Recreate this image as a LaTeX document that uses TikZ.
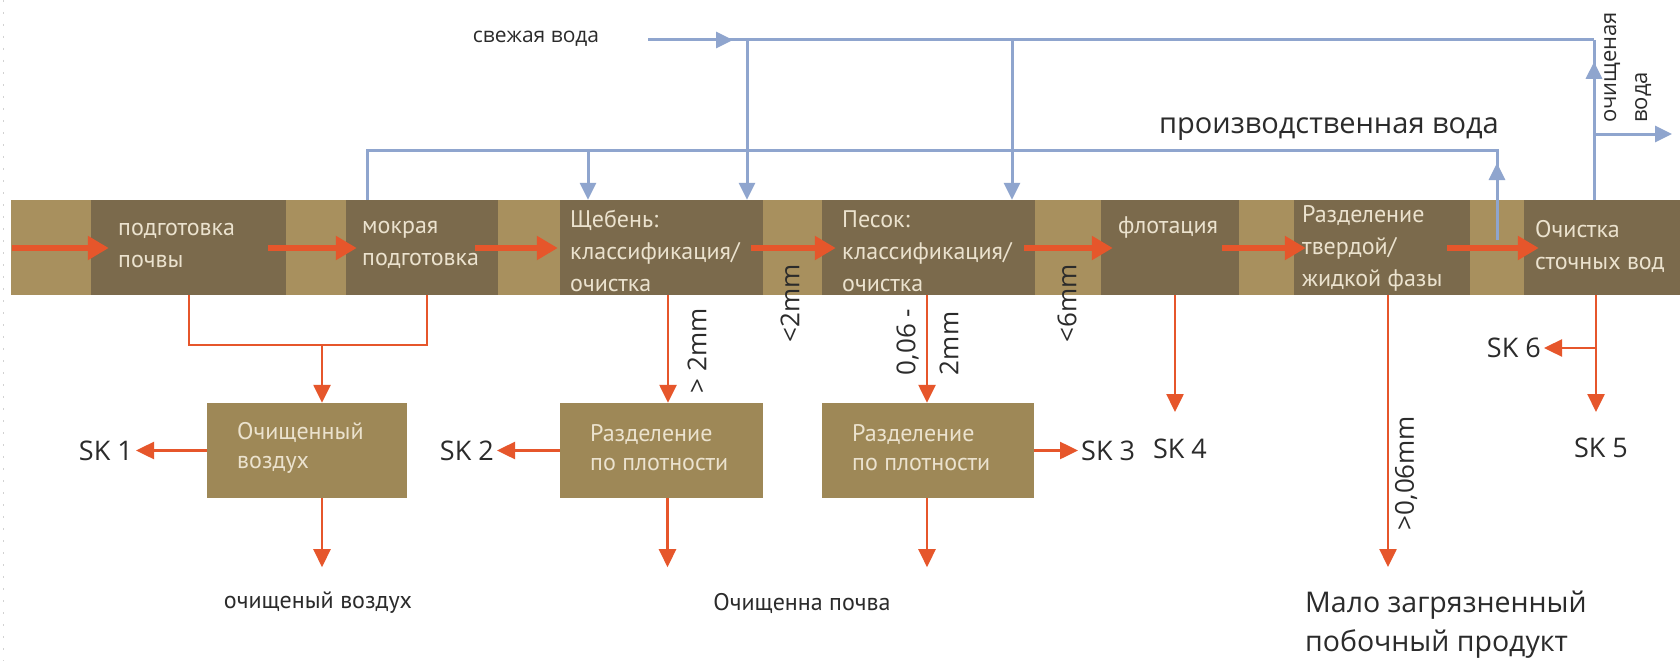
\documentclass[tikz,border=0pt]{standalone}
\usepackage{fontspec}
\setmainfont{Open Sans}
\newfontfamily\condf{PT Sans}
\usetikzlibrary{arrows.meta,calc,decorations.markings}

\definecolor{bandlight}{HTML}{A8905E}
\definecolor{banddark}{HTML}{7B6A4C}
\definecolor{boxtan}{HTML}{9E8857}
\definecolor{boxtext}{HTML}{EBE2CE}
\definecolor{flow}{HTML}{E6562B}
\definecolor{water}{HTML}{8FA5CE}
\definecolor{ink}{HTML}{2B2B2B}

\tikzset{
  dbox/.style={fill=banddark, draw=none, minimum height=95pt, inner sep=0pt},
  lbox/.style={fill=boxtan, draw=none, minimum height=95pt, inner sep=0pt},
  btext/.style={anchor=west, inner sep=0pt, align=left, text=boxtext, font=\condf\fontsize{24}{32}\selectfont},
  ltext/.style={anchor=west, inner sep=0pt, align=left, text=boxtext, font=\condf\fontsize{24}{29}\selectfont},
  ctext/.style={inner sep=0pt, text=ink, font=\condf\fontsize{24}{29}\selectfont},
  lab/.style={inner sep=0pt, text=ink, font=\fontsize{26}{30}\selectfont},
  sk/.style={inner sep=3pt, text=ink, font=\fontsize{27}{30}\selectfont},
  bandarrow/.style={draw=flow, line width=6pt, -{Triangle[length=21pt,width=23pt]}},
  oline/.style={draw=flow, line width=2.5pt},
  oarrow/.style={oline, -{Triangle[length=18pt,width=17pt]}},
  wline/.style={draw=water, line width=3pt},
  warrow/.style={wline, -{Triangle[length=17pt,width=16pt]}},
  wmark/.style={postaction={decorate}, decoration={markings, mark=at position #1 with {\arrow{Triangle[length=17pt,width=16pt,color=water]}}}},
}

\begin{document}
\begin{tikzpicture}[x=1pt,y=-1pt]
\fill[white] (0,0) rectangle (1680,661);
\useasboundingbox (0,0) rectangle (1680,661);
\draw[gray!35, line width=1pt, dash pattern=on 2pt off 10pt] (3,0) -- (3,661);

% ---------- band ----------
\fill[bandlight] (11,200) rectangle (1680,295);
\node[dbox, minimum width=195pt] (d1) at (188.5,247.5) {};
\node[dbox, minimum width=152pt] (d2) at (422,247.5) {};
\node[dbox, minimum width=203pt] (d3) at (661.5,247.5) {};
\node[dbox, minimum width=213pt] (d4) at (928.5,247.5) {};
\node[dbox, minimum width=138pt] (d5) at (1170,247.5) {};
\node[dbox, minimum width=176pt] (d6) at (1382,247.5) {};
\node[dbox, minimum width=156pt] (d7) at (1602,247.5) {};

% ---------- water lines ----------
\coordinate (fw) at (648,40);
\coordinate (fwR) at (1594,40);
\coordinate (fwj1) at (747,40);
\coordinate (fwj2) at (1012,40);
\draw[wline, wmark=85pt] (fw) -- (fwR);
\draw[wline, wmark=138pt] ($(d7.north)+(-8,0)$) -- (fwR);
\draw[warrow] (fwj1) -- ($(d3.north)+(85.5,0)$);
\draw[warrow] (fwj2) -- ($(d4.north)+(83.5,0)$);

\coordinate (pws) at (1497,240);
\coordinate (pwR) at (1497,150);
\coordinate (pwL) at (367,150);
\coordinate (pwj) at (588,150);
\draw[wline, wmark=77pt] (pws) -- (pwR) -- (pwL) -- ($(d2.north)+(-55,0)$);
\draw[warrow] (pwj) -- ($(d3.north)+(-73.5,0)$);

\coordinate (cw) at (1594,134);
\coordinate (cwR) at (1672,134);
\draw[warrow] (cw) -- (cwR);

\node[lab, font=\fontsize{21}{24}\selectfont] (fresh) at (536,39) {свежая вода};
\node[lab, font=\fontsize{29}{30}\selectfont, anchor=east] (prodw) at (1499,129) {производственная вода};
\node[lab, rotate=90, align=left, font=\fontsize{22}{31}\selectfont, anchor=north west] (cleanw) at (1604,123) {очищеная\\вода};

% ---------- band arrows ----------
\coordinate (src) at (12,248);
\draw[bandarrow] (src) -- ($(d1.west)+(18,0.5)$);
\draw[bandarrow] ($(d1.east)+(-18,0.5)$) -- ($(d2.west)+(11,0.5)$);
\draw[bandarrow] ($(d2.east)+(-23,0.5)$) -- ($(d3.west)+(-2,0.5)$);
\draw[bandarrow] ($(d3.east)+(-12,0.5)$) -- ($(d4.west)+(14,0.5)$);
\draw[bandarrow] ($(d4.east)+(-11,0.5)$) -- ($(d5.west)+(12,0.5)$);
\draw[bandarrow] ($(d5.east)+(-17,0.5)$) -- ($(d6.west)+(12,0.5)$);
\draw[bandarrow] ($(d6.east)+(-23,0.5)$) -- ($(d7.west)+(15,0.5)$);

% ---------- band texts ----------
\node[btext] (t1) at (118,245) {подготовка\\почвы};
\node[btext] (t2) at (362,245) {мокрая\\подготовка};
\node[btext] (t3) at (570,251) {Щебень:\\классификация/\\очистка};
\node[btext] (t4) at (842,251) {Песок:\\классификация/\\очистка};
\node[btext] (t5) at (1118,227) {флотация};
\node[btext] (t6) at (1302,248) {Разделение\\твердой/\\жидкой фазы};
\node[btext] (t7) at (1535,246) {Очистка\\сточных вод};

% ---------- lower boxes ----------
\node[lbox, minimum width=200pt] (A) at (307,450.5) {};
\node[lbox, minimum width=203pt] (B) at (661.5,450.5) {};
\node[lbox, minimum width=212pt] (C) at (928,450.5) {};
\node[ltext] (tA) at (237,447.5) {Очищенный\\воздух};
\node[ltext] (tB) at (590,447.5) {Разделение\\по плотности};
\node[ltext] (tC) at (852,447.5) {Разделение\\по плотности};

% ---------- SK labels ----------
\node[sk, anchor=east] (sk1) at (136,450.5) {SK 1};
\node[sk, anchor=east] (sk2) at (497,450.5) {SK 2};
\node[sk, anchor=west] (sk3) at (1078,450.5) {SK 3};
\node[sk] (sk4) at (1180,449) {SK 4};
\node[sk] (sk5) at (1601,448) {SK 5};
\node[sk, anchor=east] (sk6) at (1544,348) {SK 6};

% ---------- orange connectors ----------
\coordinate (m1) at (189,345);
\coordinate (m2) at (427,345);
\coordinate (m0) at (322,345);
\draw[oline] ($(d1.south)+(0.5,0)$) -- (m1) -- (m2) -- ($(d2.south)+(5,0)$);
\draw[oarrow] (m0) -- ($(A.north)+(15,0)$);
\draw[oarrow] ($(d3.south)+(6.5,0)$) -- ($(B.north)+(6.5,0)$);
\draw[oarrow] ($(d4.south)+(-1.5,0)$) -- ($(C.north)+(-1,0)$);
\coordinate (sk4tip) at (1175,412);
\draw[oarrow] ($(d5.south)+(5,0)$) -- (sk4tip);
\coordinate (bytip) at (1388,567);
\draw[oarrow] ($(d6.south)+(6,0)$) -- (bytip);
\coordinate (sk5tip) at (1596,412);
\draw[oarrow] ($(d7.south)+(-6,0)$) -- (sk5tip);
\coordinate (sk6j) at (1596,348);
\draw[oarrow] (sk6j) -- (sk6.east);
\draw[oarrow] (A.west) -- (A.west -| sk1.east);
\draw[oarrow] (B.west) -- (B.west -| sk2.east);
\draw[oarrow] (C.east) -- (C.east -| sk3.west);
\draw[oarrow] ($(A.south)+(15,0)$) -- ++(0,69);
\draw[oarrow] ($(B.south)+(6,0)$) -- ++(0,69);
\draw[oarrow] ($(C.south)+(-1,0)$) -- ++(0,69);

% ---------- size labels ----------
\node[lab, rotate=90] (l1) at (697,351) {> 2mm};
\node[lab, rotate=90] (l2) at (790,303) {<2mm};
\node[lab, rotate=90, align=left, font=\fontsize{26}{43}\selectfont] (l3) at (927.5,342) {0,06 -\\2mm};
\node[lab, rotate=90] (l4) at (1067,303) {<6mm};
\node[lab, rotate=90] (l5) at (1406,473) {>0,06mm};

% ---------- bottom labels ----------
\node[ctext] (outA) at (318,603) {очищеный воздух};
\node[ctext] (outB) at (802,603) {Очищенна почва};
\node[lab, anchor=west, align=left, font=\fontsize{28.5}{39}\selectfont] (outC) at (1305,625) {Мало загрязненный\\побочный продукт};
\end{tikzpicture}
\end{document}
